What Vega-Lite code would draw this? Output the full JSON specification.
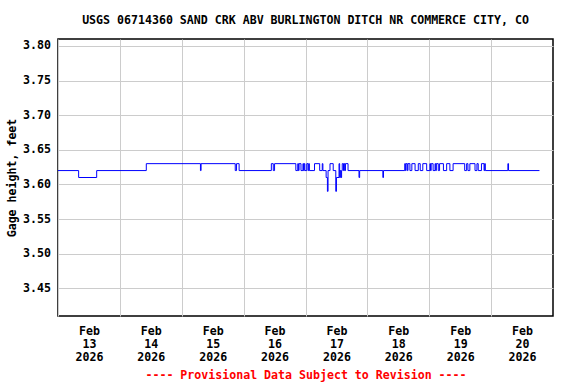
{
  "$schema": "https://vega.github.io/schema/vega-lite/v6.json",
  "width": 495,
  "height": 277,
  "autosize": "none",
  "padding": {"left": 58, "top": 39, "right": 23, "bottom": 68},
  "background": "white",
  "title": {
    "text": "USGS 06714360 SAND CRK ABV BURLINGTON DITCH NR COMMERCE CITY, CO",
    "font": "DejaVu Sans Mono",
    "fontSize": 11.6,
    "fontWeight": "bold",
    "color": "black",
    "anchor": "middle",
    "offset": 12
  },
  "data": {
    "values": [
      {"time": "2026-02-13T00:00Z", "value": 3.62},
      {"time": "2026-02-13T08:00Z", "value": 3.61},
      {"time": "2026-02-13T15:00Z", "value": 3.62},
      {"time": "2026-02-14T10:15Z", "value": 3.63},
      {"time": "2026-02-15T07:15Z", "value": 3.62},
      {"time": "2026-02-15T07:30Z", "value": 3.63},
      {"time": "2026-02-15T20:45Z", "value": 3.62},
      {"time": "2026-02-15T21:15Z", "value": 3.63},
      {"time": "2026-02-15T22:15Z", "value": 3.62},
      {"time": "2026-02-16T10:45Z", "value": 3.63},
      {"time": "2026-02-16T11:30Z", "value": 3.62},
      {"time": "2026-02-16T12:00Z", "value": 3.63},
      {"time": "2026-02-16T20:15Z", "value": 3.62},
      {"time": "2026-02-16T21:00Z", "value": 3.63},
      {"time": "2026-02-16T21:15Z", "value": 3.62},
      {"time": "2026-02-16T21:30Z", "value": 3.63},
      {"time": "2026-02-16T22:15Z", "value": 3.62},
      {"time": "2026-02-16T23:00Z", "value": 3.63},
      {"time": "2026-02-16T23:15Z", "value": 3.62},
      {"time": "2026-02-16T23:30Z", "value": 3.63},
      {"time": "2026-02-16T23:45Z", "value": 3.62},
      {"time": "2026-02-17T00:30Z", "value": 3.63},
      {"time": "2026-02-17T01:00Z", "value": 3.62},
      {"time": "2026-02-17T01:15Z", "value": 3.63},
      {"time": "2026-02-17T01:30Z", "value": 3.62},
      {"time": "2026-02-17T03:30Z", "value": 3.63},
      {"time": "2026-02-17T05:30Z", "value": 3.62},
      {"time": "2026-02-17T06:30Z", "value": 3.63},
      {"time": "2026-02-17T06:45Z", "value": 3.62},
      {"time": "2026-02-17T08:00Z", "value": 3.61},
      {"time": "2026-02-17T08:30Z", "value": 3.59},
      {"time": "2026-02-17T08:45Z", "value": 3.62},
      {"time": "2026-02-17T09:30Z", "value": 3.63},
      {"time": "2026-02-17T10:45Z", "value": 3.62},
      {"time": "2026-02-17T11:45Z", "value": 3.59},
      {"time": "2026-02-17T12:00Z", "value": 3.61},
      {"time": "2026-02-17T13:00Z", "value": 3.63},
      {"time": "2026-02-17T13:15Z", "value": 3.61},
      {"time": "2026-02-17T13:30Z", "value": 3.62},
      {"time": "2026-02-17T13:45Z", "value": 3.61},
      {"time": "2026-02-17T14:00Z", "value": 3.62},
      {"time": "2026-02-17T14:15Z", "value": 3.63},
      {"time": "2026-02-17T14:45Z", "value": 3.62},
      {"time": "2026-02-17T15:00Z", "value": 3.63},
      {"time": "2026-02-17T15:15Z", "value": 3.62},
      {"time": "2026-02-17T15:30Z", "value": 3.63},
      {"time": "2026-02-17T16:30Z", "value": 3.62},
      {"time": "2026-02-17T20:45Z", "value": 3.61},
      {"time": "2026-02-17T21:00Z", "value": 3.62},
      {"time": "2026-02-18T06:00Z", "value": 3.61},
      {"time": "2026-02-18T06:15Z", "value": 3.62},
      {"time": "2026-02-18T14:30Z", "value": 3.63},
      {"time": "2026-02-18T14:45Z", "value": 3.62},
      {"time": "2026-02-18T15:00Z", "value": 3.63},
      {"time": "2026-02-18T15:30Z", "value": 3.62},
      {"time": "2026-02-18T15:45Z", "value": 3.63},
      {"time": "2026-02-18T16:30Z", "value": 3.62},
      {"time": "2026-02-18T17:15Z", "value": 3.63},
      {"time": "2026-02-18T18:30Z", "value": 3.62},
      {"time": "2026-02-18T19:45Z", "value": 3.63},
      {"time": "2026-02-18T20:30Z", "value": 3.62},
      {"time": "2026-02-18T21:30Z", "value": 3.63},
      {"time": "2026-02-18T23:00Z", "value": 3.62},
      {"time": "2026-02-19T00:15Z", "value": 3.63},
      {"time": "2026-02-19T00:30Z", "value": 3.62},
      {"time": "2026-02-19T00:45Z", "value": 3.63},
      {"time": "2026-02-19T01:30Z", "value": 3.62},
      {"time": "2026-02-19T02:15Z", "value": 3.63},
      {"time": "2026-02-19T02:30Z", "value": 3.62},
      {"time": "2026-02-19T02:45Z", "value": 3.63},
      {"time": "2026-02-19T03:30Z", "value": 3.62},
      {"time": "2026-02-19T04:00Z", "value": 3.63},
      {"time": "2026-02-19T05:30Z", "value": 3.62},
      {"time": "2026-02-19T06:45Z", "value": 3.63},
      {"time": "2026-02-19T08:00Z", "value": 3.62},
      {"time": "2026-02-19T09:15Z", "value": 3.63},
      {"time": "2026-02-19T13:45Z", "value": 3.62},
      {"time": "2026-02-19T14:30Z", "value": 3.63},
      {"time": "2026-02-19T15:00Z", "value": 3.62},
      {"time": "2026-02-19T15:45Z", "value": 3.63},
      {"time": "2026-02-19T17:45Z", "value": 3.62},
      {"time": "2026-02-19T18:30Z", "value": 3.63},
      {"time": "2026-02-19T19:00Z", "value": 3.62},
      {"time": "2026-02-19T20:15Z", "value": 3.63},
      {"time": "2026-02-19T21:15Z", "value": 3.62},
      {"time": "2026-02-19T21:30Z", "value": 3.63},
      {"time": "2026-02-19T21:45Z", "value": 3.62},
      {"time": "2026-02-20T06:30Z", "value": 3.63},
      {"time": "2026-02-20T06:45Z", "value": 3.62},
      {"time": "2026-02-20T18:45Z", "value": 3.62}
    ]
  },
  "mark": {"type": "line", "interpolate": "step-after", "color": "#0000ff", "strokeWidth": 1, "clip": true},
  "encoding": {
    "x": {
      "field": "time",
      "type": "temporal",
      "scale": {
        "type": "utc",
        "domain": [
          {"year": 2026, "month": 2, "date": 13, "utc": true},
          {"year": 2026, "month": 2, "date": 21, "utc": true}
        ]
      },
      "axis": {
        "values": [
          {"year": 2026, "month": 2, "date": 13, "utc": true},
          {"year": 2026, "month": 2, "date": 14, "utc": true},
          {"year": 2026, "month": 2, "date": 15, "utc": true},
          {"year": 2026, "month": 2, "date": 16, "utc": true},
          {"year": 2026, "month": 2, "date": 17, "utc": true},
          {"year": 2026, "month": 2, "date": 18, "utc": true},
          {"year": 2026, "month": 2, "date": 19, "utc": true},
          {"year": 2026, "month": 2, "date": 20, "utc": true}
        ],
        "labelExpr": "[utcFormat(datum.value, '%b'), utcFormat(datum.value, '%d'), utcFormat(datum.value, '%Y')]",
        "grid": true,
        "gridColor": "#cccccc",
        "gridWidth": 1,
        "ticks": false,
        "domain": false,
        "labelOffset": 30.9,
        "labelFlush": false,
        "labelOverlap": false,
        "labelFont": "DejaVu Sans Mono",
        "labelFontSize": 11.6,
        "labelFontWeight": "bold",
        "labelColor": "black",
        "labelBaseline": "top",
        "labelLineHeight": 13,
        "labelPadding": 9,
        "title": "---- Provisional Data Subject to Revision ----",
        "titleFont": "DejaVu Sans Mono",
        "titleFontSize": 11.6,
        "titleFontWeight": "bold",
        "titleColor": "#ff0000",
        "titlePadding": 7
      }
    },
    "y": {
      "field": "value",
      "type": "quantitative",
      "scale": {"domain": [3.41, 3.81], "zero": false, "nice": false},
      "axis": {
        "values": [3.45, 3.5, 3.55, 3.6, 3.65, 3.7, 3.75, 3.8],
        "format": ".2f",
        "grid": true,
        "gridColor": "#cccccc",
        "gridWidth": 1,
        "ticks": false,
        "domain": false,
        "labelFont": "DejaVu Sans Mono",
        "labelFontSize": 11.6,
        "labelFontWeight": "bold",
        "labelColor": "black",
        "labelPadding": 7.5,
        "title": "Gage height, feet",
        "titleFont": "DejaVu Sans Mono",
        "titleFontSize": 11.6,
        "titleFontWeight": "bold",
        "titleColor": "black",
        "titlePadding": 5
      }
    }
  },
  "config": {
    "view": {"stroke": "black", "strokeWidth": 1.5}
  }
}
